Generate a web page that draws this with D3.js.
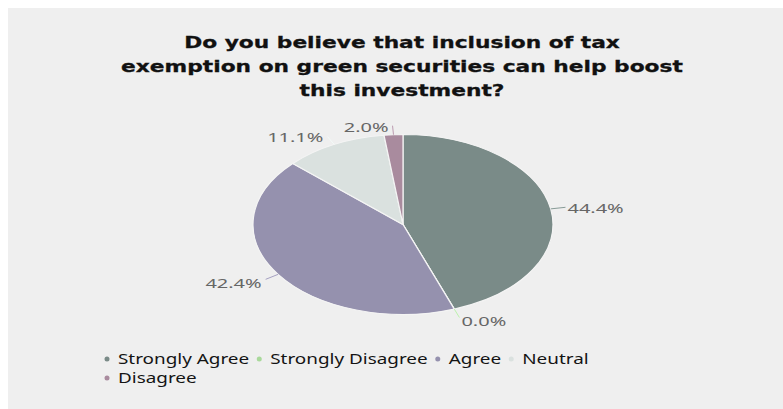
<!DOCTYPE html>
<html>
<head>
<meta charset="utf-8">
<script src="https://cdn.jsdelivr.net/npm/d3@7"></script>
<style>
  html, body { margin: 0; padding: 0; background: #ffffff; }
  svg { display: block; }
</style>
</head>
<body>
<script>
// Survey answers (respondent counts) and their palette
const categories = ["Strongly Agree", "Strongly Disagree", "Agree", "Neutral", "Disagree"];
const counts = [44, 0, 42, 11, 2];
const colors = ["#7a8b88", "#a9d99b", "#9591ae", "#dae1df", "#a98b9e"];
const titleLines = [
  "Do you believe that inclusion of tax",
  "exemption on green securities can help boost",
  "this investment?"
];

const W = 783, H = 409;
const svg = d3.select("body").append("svg").attr("width", W).attr("height", H);

// panel background
svg.append("rect").attr("x", 8).attr("y", 8).attr("width", W - 8).attr("height", H - 8)
  .attr("fill", "#efefef");

// title
const titleStretch = 1.36;
svg.append("g").selectAll("text").data(titleLines).join("text")
  .attr("transform", (d, i) => `translate(402,${48 + i * 24}) scale(${titleStretch},1)`)
  .attr("text-anchor", "middle")
  .attr("font-family", "DejaVu Sans")
  .attr("font-weight", "bold")
  .attr("font-size", 16)
  .attr("fill", "#111")
  .attr("stroke", "#111")
  .attr("stroke-width", 0.3)
  .text(d => d);

// pie: drawn as a circle, squeezed into an ellipse
const cx = 403, cy = 224.5, rx = 150, ry = 90;
const pie = d3.pie().sort(null).value(d => d)(counts);
const arc = d3.arc().innerRadius(0).outerRadius(ry);
const pieG = svg.append("g").attr("transform", `translate(${cx},${cy}) scale(${rx / ry},1)`);
pieG.selectAll("path").data(pie).join("path")
  .attr("d", arc)
  .attr("fill", (d, i) => colors[i])
  .attr("stroke", "#f4f4f4")
  .attr("stroke-width", 1.2)
  .attr("vector-effect", "non-scaling-stroke");

// value labels with short leader lines
const total = d3.sum(counts);
const fmt = d => (d / total * 100).toFixed(1) + "%";
const labelStretch = 1.6;
const pt = (a, k) => [cx + rx * k * Math.sin(a), cy - ry * k * Math.cos(a)];
const labG = svg.append("g");
pie.forEach((d, i) => {
  const a = (d.startAngle + d.endAngle) / 2;
  const p0 = pt(a, 1.0), p1 = pt(a, 1.1);
  labG.append("line")
    .attr("x1", p0[0]).attr("y1", p0[1]).attr("x2", p1[0]).attr("y2", p1[1])
    .attr("stroke", d3.color(colors[i]).brighter(0.3)).attr("stroke-width", 1);
  const right = Math.sin(a) > 0;
  const dy = Math.cos(a) < -0.5 ? 4 : 1;
  labG.append("text")
    .attr("transform", `translate(${p1[0] + (right ? 2 : -4)},${p1[1] + dy}) scale(${labelStretch},1)`)
    .attr("text-anchor", right ? "start" : "end")
    .attr("dominant-baseline", "central")
    .attr("font-family", "Noto Sans")
    .attr("font-size", 12.5)
    .attr("fill", "#666")
    .text(fmt(d.data));
});

// legend, wrapping to a second row
const legStretch = 1.26;
const legG = svg.append("g");
let lx = 105, ly = 358;
const maxX = 640;
categories.forEach((c, i) => {
  const t = legG.append("text")
    .attr("font-family", "Noto Sans")
    .attr("font-size", 15)
    .attr("fill", "#141414")
    .attr("dominant-baseline", "central")
    .text(c);
  const w = t.node().getComputedTextLength() * legStretch;
  if (lx + 12 + w > maxX) { lx = 105; ly += 19; }
  legG.append("circle").attr("cx", lx + 2).attr("cy", ly + 1).attr("r", 2.5).attr("fill", colors[i]);
  t.attr("transform", `translate(${lx + 13},${ly}) scale(${legStretch},1)`);
  lx += 13 + w + 8;
});
</script>
</body>
</html>
